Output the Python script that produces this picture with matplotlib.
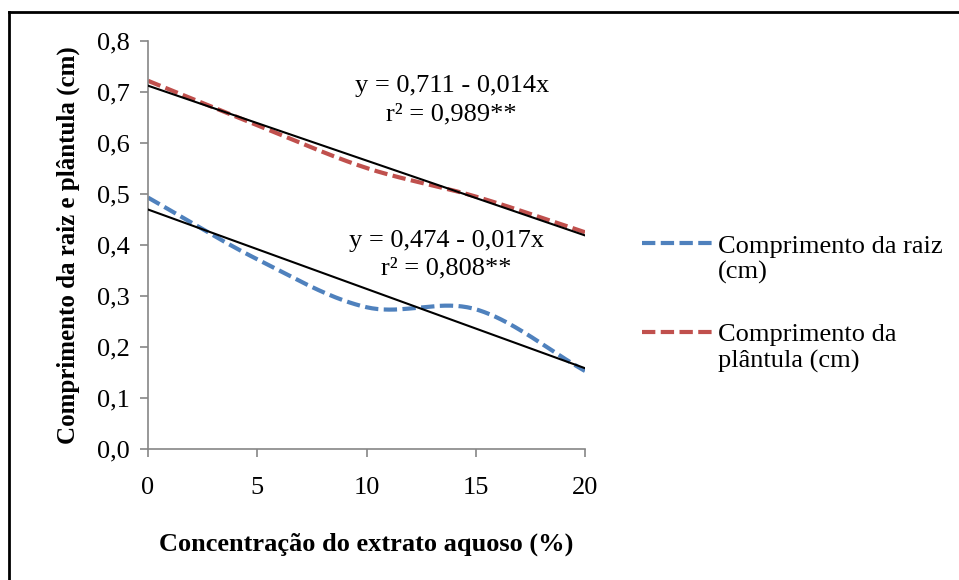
import numpy as np
import matplotlib.pyplot as plt
from matplotlib.lines import Line2D
from matplotlib.legend_handler import HandlerLine2D

# concentracao (%) e comprimentos medios (cm)
conc = [0, 5, 10, 15, 20]
raiz = [0.493, 0.372, 0.278, 0.274, 0.153]
plantula = [0.722, 0.635, 0.551, 0.495, 0.425]

xticks = [0, 5, 10, 15, 20]
yticks = [0.0, 0.1, 0.2, 0.3, 0.4, 0.5, 0.6, 0.7, 0.8]
ylabels = ["0,0", "0,1", "0,2", "0,3", "0,4", "0,5", "0,6", "0,7", "0,8"]

eq_plantula = ["y = 0,711 - 0,014x", "r² = 0,989**"]
eq_raiz = ["y = 0,474 - 0,017x", "r² = 0,808**"]

BLUE = "#4f81bd"
RED = "#c0504d"

plt.rcParams['font.family'] = ['Liberation Serif', 'DejaVu Serif']
FS = 19


def smooth(x, y, n=40):
    # curva suavizada tipo Excel (Catmull-Rom)
    x = np.asarray(x, float)
    y = np.asarray(y, float)
    px = np.concatenate([[2 * x[0] - x[1]], x, [2 * x[-1] - x[-2]]])
    py = np.concatenate([[2 * y[0] - y[1]], y, [2 * y[-1] - y[-2]]])
    xs, ys = [], []
    t = np.linspace(0, 1, n)
    for i in range(1, len(px) - 2):
        for p, out in ((px, xs), (py, ys)):
            p0, p1, p2, p3 = p[i - 1], p[i], p[i + 1], p[i + 2]
            out.extend(0.5 * (2 * p1 + (-p0 + p2) * t
                              + (2 * p0 - 5 * p1 + 4 * p2 - p3) * t ** 2
                              + (-p0 + 3 * p1 - 3 * p2 + p3) * t ** 3))
    return np.array(xs), np.array(ys)


class TopLine(HandlerLine2D):
    # linha da legenda alinhada com a primeira linha do texto
    def create_artists(self, legend, orig_handle, xdescent, ydescent, width, height, fontsize, trans):
        arts = super().create_artists(legend, orig_handle, xdescent, ydescent, width, height, fontsize, trans)
        for a in arts:
            a.set_ydata(np.asarray(a.get_ydata()) + 0.6 * fontsize)
        return arts


fig = plt.figure(figsize=(9.59, 5.80), dpi=100)
ax = fig.add_axes([148 / 959, 1 - 449 / 580, (585 - 148) / 959, (449 - 41) / 580])

for yv, col, lab in ((raiz, BLUE, "Comprimento da raiz\n(cm)"),
                     (plantula, RED, "Comprimento da\nplântula (cm)")):
    sx, sy = smooth(conc, yv)
    ax.plot(sx, sy, color=col, lw=3, dashes=(3.2, 1.3), label=lab, solid_capstyle='butt')
    a, b = np.polyfit(conc, yv, 1)
    xx = np.array([conc[0], conc[-1]])
    ax.plot(xx, b + a * xx, color='black', lw=1.5, zorder=3)

ax.set_xlim(0, 20)
ax.set_ylim(0, 0.8)
ax.set_xticks(xticks)
ax.set_yticks(yticks)
ax.set_yticklabels(ylabels)
for s in ('top', 'right'):
    ax.spines[s].set_visible(False)
for s in ('left', 'bottom'):
    ax.spines[s].set_color('#868686')
    ax.spines[s].set_linewidth(1.2)
ax.tick_params(axis='both', direction='out', length=6, width=1.2, color='#868686', labelsize=FS)
ax.tick_params(axis='x', pad=14)
ax.tick_params(axis='y', pad=7)

ax.set_xlabel("Concentração do extrato aquoso (%)", fontsize=FS, fontweight='bold', labelpad=24)
ax.set_ylabel("Comprimento da raiz e plântula (cm)", fontsize=18, fontweight='bold', labelpad=12)

ax.text(13.9, 0.684, "\n".join(eq_plantula), ha='center', va='center', fontsize=FS, linespacing=1.35)
ax.text(13.65, 0.381, "\n".join(eq_raiz), ha='center', va='center', fontsize=FS, linespacing=1.35)

fig.legend(loc='upper left', bbox_to_anchor=(618 / 959, 1 - 212 / 580), frameon=False,
           fontsize=FS, handlelength=2.8, handletextpad=0.1, labelspacing=1.5,
           handler_map={Line2D: TopLine()})

# moldura externa
fig.add_artist(Line2D([9 / 959, 1], [1 - 12 / 580, 1 - 12 / 580], color='black', lw=2))
fig.add_artist(Line2D([9 / 959, 9 / 959], [0, 1 - 12 / 580], color='black', lw=2))

fig.savefig("out.png", dpi=100)
